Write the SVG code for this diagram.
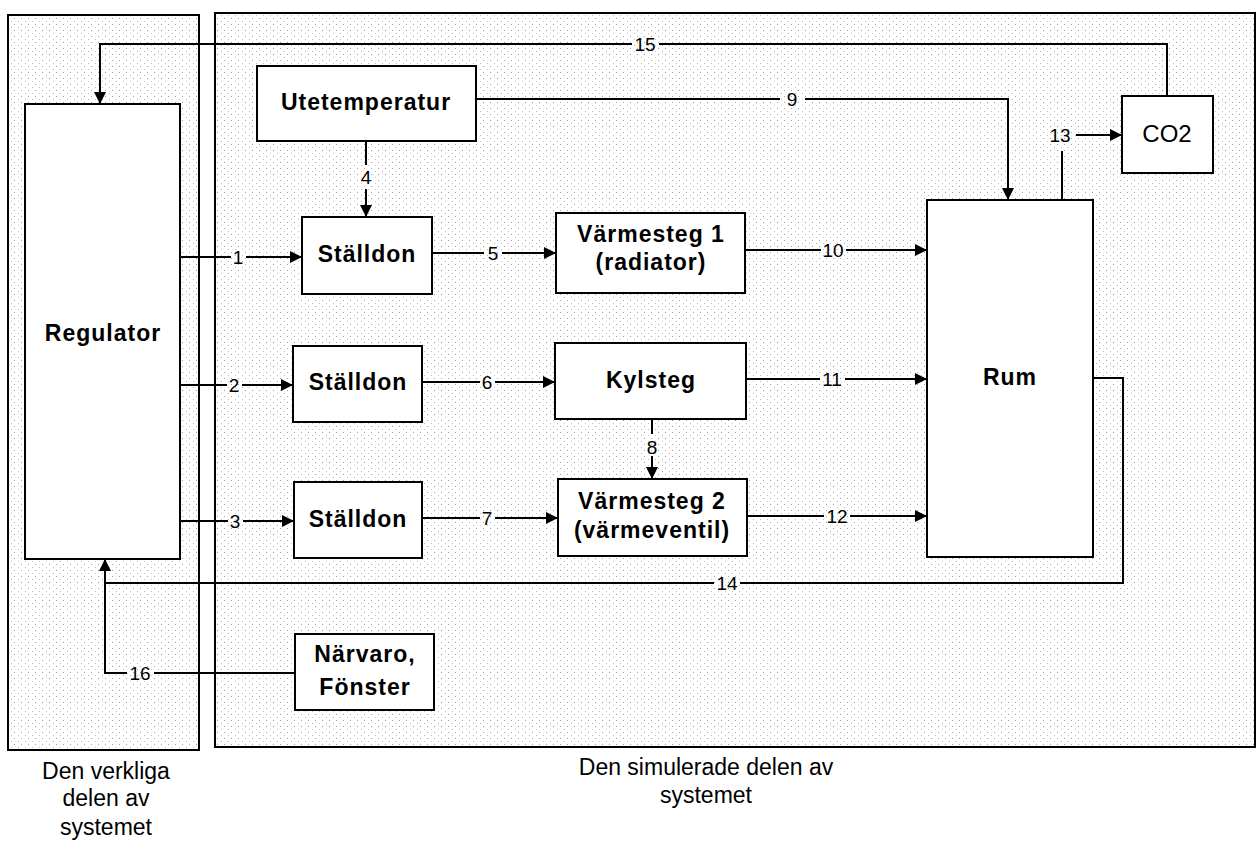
<svg xmlns="http://www.w3.org/2000/svg" width="1257" height="848" viewBox="0 0 1257 848">
<defs>
<pattern id="dots" width="7" height="6" patternUnits="userSpaceOnUse">
<rect x="0" y="0" width="1" height="1" fill="#a0a0a0"/>
<rect x="4" y="3" width="1" height="1" fill="#c0c0c0"/>
</pattern>
<marker id="arr" viewBox="0 0 10 10" refX="10" refY="5" markerWidth="6.5" markerHeight="6" orient="auto" markerUnits="strokeWidth">
<path d="M0,0 L10,5 L0,10 z" fill="#000"/>
</marker>
<style>
.panel{fill:url(#dots);stroke:#000;stroke-width:2}
.box{fill:#fff;stroke:#000;stroke-width:2}
.bt{font-family:"Liberation Sans",Arial,sans-serif;font-size:23px;font-weight:bold;letter-spacing:1px;text-anchor:middle;fill:#000}
.rt{font-family:"Liberation Sans",Arial,sans-serif;font-size:24px;text-anchor:middle;fill:#000}
.num{font-family:"Liberation Sans",Arial,sans-serif;font-size:19px;text-anchor:middle;fill:#000}
.cap{font-family:"Liberation Sans",Arial,sans-serif;font-size:23px;text-anchor:middle;fill:#000}
.ln{fill:none;stroke:#000;stroke-width:2}
.ar{marker-end:url(#arr)}
</style>
</defs>
<rect x="0" y="0" width="1257" height="848" fill="#fff"/>
<g id="panel-real">
<rect class="panel" x="8" y="15" width="191" height="735"/>
</g>
<g id="panel-sim">
<rect class="panel" x="215" y="13" width="1040" height="734"/>
</g>
<g id="connectors">
<path class="ln" d="M1167,96 V44 H659"/>
<path class="ln ar" d="M632,44 H100 V104"/>
<text class="num" x="645" y="51">15</text>
<path class="ln" d="M476,99 H780"/>
<path class="ln ar" d="M805,99 H1008 V200"/>
<text class="num" x="792" y="106">9</text>
<path class="ln" d="M366,141 V165"/>
<path class="ln ar" d="M366,189 V217"/>
<text class="num" x="366" y="184">4</text>
<path class="ln" d="M180,257 H231"/>
<path class="ln ar" d="M246,257 H302"/>
<text class="num" x="238" y="264">1</text>
<path class="ln" d="M432,253 H484"/>
<path class="ln ar" d="M502,253 H556"/>
<text class="num" x="493" y="260">5</text>
<path class="ln" d="M745,250 H821"/>
<path class="ln ar" d="M846,250 H927"/>
<text class="num" x="833" y="257">10</text>
<path class="ln" d="M180,385 H227"/>
<path class="ln ar" d="M242,385 H293"/>
<text class="num" x="234" y="392">2</text>
<path class="ln" d="M422,382 H480"/>
<path class="ln ar" d="M495,382 H555"/>
<text class="num" x="487" y="389">6</text>
<path class="ln" d="M746,379 H820"/>
<path class="ln ar" d="M845,379 H927"/>
<text class="num" x="832" y="386">11</text>
<path class="ln" d="M652,419 V434"/>
<path class="ln ar" d="M652,456 V479"/>
<text class="num" x="652" y="454">8</text>
<path class="ln" d="M180,521 H228"/>
<path class="ln ar" d="M243,521 H294"/>
<text class="num" x="235" y="528">3</text>
<path class="ln" d="M422,518 H480"/>
<path class="ln ar" d="M495,518 H558"/>
<text class="num" x="487" y="525">7</text>
<path class="ln" d="M747,516 H824"/>
<path class="ln ar" d="M850,516 H927"/>
<text class="num" x="837" y="523">12</text>
<path class="ln" d="M1062,200 V151"/>
<path class="ln ar" d="M1076,135 H1122"/>
<text class="num" x="1060" y="142">13</text>
<path class="ln" d="M1093,378 H1123 V583 H740"/>
<path class="ln ar" d="M714,583 H105 V559"/>
<text class="num" x="727" y="590">14</text>
<path class="ln" d="M295,673 H154"/>
<path class="ln" d="M127,673 H105 V583"/>
<text class="num" x="140" y="680">16</text>
</g>
<g id="regulator">
<rect class="box" x="25" y="104" width="155" height="455"/>
<text class="bt" x="103" y="341">Regulator</text>
</g>
<g id="utetemperatur">
<rect class="box" x="257" y="66" width="219" height="75"/>
<text class="bt" x="366" y="110">Utetemperatur</text>
</g>
<g id="stalldon1">
<rect class="box" x="302" y="217" width="130" height="77"/>
<text class="bt" x="367" y="262">Ställdon</text>
</g>
<g id="varmesteg1">
<rect class="box" x="556" y="213" width="189" height="80"/>
<text class="bt" x="651" y="242">Värmesteg 1</text>
<text class="bt" x="651" y="270">(radiator)</text>
</g>
<g id="stalldon2">
<rect class="box" x="293" y="346" width="129" height="76"/>
<text class="bt" x="358" y="390">Ställdon</text>
</g>
<g id="kylsteg">
<rect class="box" x="555" y="343" width="191" height="76"/>
<text class="bt" x="651" y="388">Kylsteg</text>
</g>
<g id="stalldon3">
<rect class="box" x="294" y="482" width="128" height="76"/>
<text class="bt" x="358" y="527">Ställdon</text>
</g>
<g id="varmesteg2">
<rect class="box" x="558" y="479" width="189" height="77"/>
<text class="bt" x="652" y="509">Värmesteg 2</text>
<text class="bt" x="652" y="538">(värmeventil)</text>
</g>
<g id="rum">
<rect class="box" x="927" y="200" width="166" height="357"/>
<text class="bt" x="1010" y="385">Rum</text>
</g>
<g id="co2">
<rect class="box" x="1122" y="96" width="91" height="77"/>
<text class="rt" x="1167" y="142">CO2</text>
</g>
<g id="narvaro">
<rect class="box" x="295" y="634" width="139" height="76"/>
<text class="bt" x="365" y="662">Närvaro,</text>
<text class="bt" x="365" y="695">Fönster</text>
</g>
<g id="captions">
<text class="cap" x="106" y="779">Den verkliga</text>
<text class="cap" x="106" y="806">delen av</text>
<text class="cap" x="106" y="835">systemet</text>
<text class="cap" x="706" y="775">Den simulerade delen av</text>
<text class="cap" x="706" y="803">systemet</text>
</g>
</svg>
